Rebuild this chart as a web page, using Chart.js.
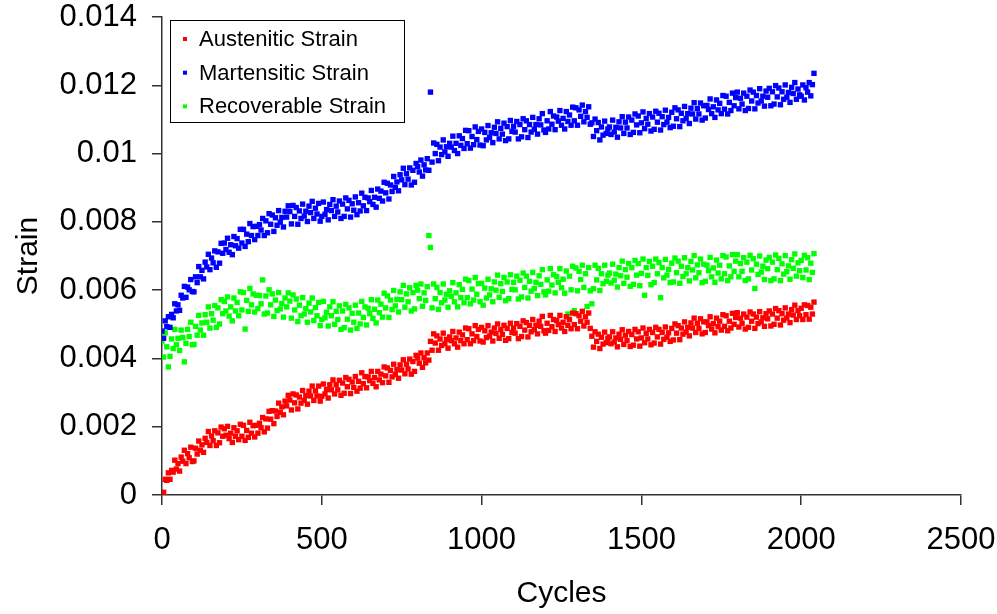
<!DOCTYPE html>
<html>
<head>
<meta charset="utf-8">
<title>Strain vs Cycles</title>
<script src="https://cdn.jsdelivr.net/npm/chart.js@4/dist/chart.umd.min.js"></script>
<style>
    html, body { margin: 0; padding: 0; background: #ffffff; }
    #strainChart { display: block; }
</style>
</head>
<body>
<canvas id="strainChart" width="997" height="614"></canvas>
<script>
const STRAIN_UNIT = 1e-5;
const CYCLE_STEP = 5;

const seriesLabels = ["Austenitic Strain", "Martensitic Strain", "Recoverable Strain"];
const seriesColors = ["#ff0000", "#0000ff", "#00ff00"];

const xTickLabels = ["0", "500", "1000", "1500", "2000", "2500"];
const yTickLabels = ["0", "0.002", "0.004", "0.006", "0.008", "0.01", "0.012", "0.014"];

const austeniticStrain = [
    2,8,46,43,65,46,72,67,102,76,92,70,111,99,131,92,121,109,140,98,
    100,137,120,158,131,147,125,166,154,186,145,173,159,188,145,182,153,199,172,194,
    175,201,165,181,154,197,172,188,162,207,172,204,160,189,169,213,181,203,170,204,
    181,210,197,227,185,223,196,245,222,247,209,246,230,269,242,258,235,275,261,292,
    278,249,296,270,293,252,287,269,306,277,291,266,304,290,319,277,305,290,319,275,
    289,325,296,309,284,323,308,337,296,323,308,336,292,328,298,344,317,339,297,331,
    315,347,304,333,313,358,326,347,314,346,335,362,327,344,317,362,337,354,329,375,
    349,372,330,365,346,383,353,367,342,381,366,396,355,383,369,398,354,391,362,409,
    401,386,416,374,402,387,416,395,450,424,472,445,466,424,457,438,474,443,456,430,
    463,452,479,443,460,433,477,452,469,443,489,455,487,443,472,452,496,464,485,451,
    491,448,481,461,496,465,477,451,489,473,501,459,485,470,497,453,488,458,503,476,
    489,474,502,458,494,464,510,483,505,463,497,478,514,484,497,472,509,494,523,481,
    474,503,482,526,493,514,479,511,499,526,489,506,479,522,497,514,487,533,499,531,
    487,525,509,538,495,522,506,533,488,465,433,478,450,471,429,462,442,477,446,459,
    463,443,478,448,460,434,471,456,484,441,468,452,479,435,470,439,485,457,478,436,
    460,489,446,473,457,485,440,476,445,491,463,485,442,476,456,492,462,475,450,488,
    454,501,474,496,455,489,471,507,477,491,466,504,489,518,476,503,488,516,472,507,
    476,507,496,522,486,502,475,518,493,509,483,528,494,525,481,509,489,532,500,520,
    534,492,518,503,530,486,521,491,536,509,530,488,521,502,537,507,519,494,531,516,
    539,495,530,500,546,518,540,498,531,512,548,518,530,505,543,527,556,514,540,525,
    547,514,557,528,555,515,550,530,565
];

const martensiticStrain = [
    480,459,510,493,522,491,529,519,560,539,557,541,585,577,611,579,609,601,631,596,
    595,639,622,669,639,658,633,682,668,705,660,694,680,715,667,712,679,737,708,738,
    719,752,711,733,704,757,730,751,723,778,738,778,728,764,742,795,760,786,748,787,
    760,792,776,810,760,803,768,824,793,820,772,812,790,833,799,813,785,831,814,847,
    830,794,848,816,842,793,832,810,852,817,831,801,846,827,860,810,840,823,854,802,
    816,858,822,836,806,851,833,865,816,846,829,861,810,852,816,870,838,863,814,853,
    834,873,821,856,832,884,847,872,833,870,859,892,851,872,843,896,869,890,861,916,
    885,913,867,908,889,933,901,917,891,938,923,957,909,941,925,958,908,951,916,971,
    962,946,981,934,967,952,985,951,1180,975,1031,1000,1027,979,1019,997,1040,1005,1020,992,
    1030,1019,1051,1009,1030,1000,1052,1024,1044,1015,1068,1029,1067,1016,1050,1026,1078,1041,1065,1025,
    1072,1023,1062,1040,1082,1047,1061,1032,1077,1059,1093,1043,1074,1057,1089,1038,1079,1043,1097,1065,
    1080,1063,1094,1043,1085,1049,1102,1070,1096,1047,1085,1063,1106,1071,1085,1057,1102,1084,1117,1069,
    1062,1096,1072,1123,1086,1110,1070,1107,1095,1126,1083,1103,1072,1123,1094,1113,1083,1136,1096,1134,
    1083,1128,1109,1142,1093,1123,1106,1137,1086,1090,1050,1101,1067,1091,1040,1078,1054,1095,1059,1072,
    1078,1056,1098,1063,1077,1048,1093,1075,1108,1059,1092,1075,1107,1056,1098,1062,1116,1084,1110,1061,
    1090,1122,1073,1103,1086,1117,1066,1107,1071,1124,1092,1118,1069,1108,1085,1127,1092,1106,1076,1121,
    1080,1134,1102,1128,1079,1118,1096,1138,1103,1117,1088,1133,1116,1149,1101,1132,1116,1148,1098,1140,
    1104,1141,1129,1160,1117,1137,1106,1157,1128,1147,1117,1170,1130,1168,1116,1150,1126,1177,1140,1164,
    1180,1131,1162,1145,1177,1126,1168,1132,1186,1154,1180,1131,1170,1148,1190,1154,1168,1139,1183,1165,
    1191,1140,1181,1145,1199,1166,1192,1143,1181,1159,1201,1165,1179,1150,1194,1176,1208,1159,1189,1172,
    1168,1201,1157,1193,1180,1208,1169,1202,1235
];

const recoverableStrain = [
    451,404,475,434,375,406,457,429,485,440,459,423,483,461,390,444,485,464,506,440,
    441,494,468,526,483,504,468,528,506,551,489,531,512,555,491,548,501,572,531,567,
    539,580,524,551,510,577,539,564,525,595,542,593,486,570,538,605,557,589,536,585,
    546,584,560,630,530,583,533,601,557,589,523,571,540,593,545,561,521,577,551,592,
    568,518,586,542,574,508,556,525,578,530,546,506,562,536,577,511,549,525,564,496,
    514,567,519,535,495,551,525,566,500,538,514,554,485,539,490,558,515,548,483,532,
    506,556,488,533,501,567,520,551,498,547,531,572,517,544,504,571,534,559,521,591,
    548,583,520,571,543,599,554,573,536,595,572,614,550,589,566,607,539,593,545,614,
    600,575,618,553,592,570,610,760,725,548,618,575,608,544,593,563,618,571,588,550,
    598,582,622,566,592,551,616,578,602,563,632,578,628,560,603,571,637,588,619,566,
    620,556,606,577,632,586,604,566,624,600,644,579,619,596,637,569,624,575,645,602,
    623,601,641,574,629,580,650,608,641,577,626,597,652,605,623,584,642,617,660,595,
    586,630,597,663,615,645,592,640,623,663,607,632,591,656,530,641,601,670,540,665,
    598,655,631,673,608,648,552,666,598,560,604,673,630,664,599,648,619,673,626,644,
    650,621,676,629,647,609,666,642,685,620,660,638,678,611,666,617,687,644,678,613,
    649,691,585,666,643,684,616,670,622,691,648,681,578,666,636,690,644,661,622,679,
    624,694,651,685,620,670,640,695,648,666,627,684,659,701,636,674,651,691,622,676,
    626,673,657,696,639,665,623,688,650,673,633,701,648,697,628,671,639,704,655,685,
    704,639,678,655,695,628,682,633,702,659,692,605,676,646,700,653,670,631,688,663,
    696,628,682,633,703,660,693,628,677,647,701,654,671,632,689,664,706,641,680,657,
    687,637,702,659,695,631,679,652,707
];

const fontFamily = "'Liberation Sans', Arial, sans-serif";

function toPoints(values) {
    return values.map((v, i) => ({ x: i * CYCLE_STEP, y: v * STRAIN_UNIT }));
}

// no extra room for the outer tick labels, layout padding decides the plot box
function noLabelPadding(scale) {
    scale.paddingTop = 0;
    scale.paddingBottom = 0;
    scale.paddingLeft = 0;
    scale.paddingRight = 0;
}

// legend box sitting inside the plot, top left
const insideLegend = {
    id: "insideLegend",
    afterDatasetsDraw(chart) {
        const ctx = chart.ctx;
        ctx.save();
        ctx.fillStyle = "#ffffff";
        ctx.fillRect(170.5, 20.5, 234, 102);
        ctx.strokeStyle = "#000000";
        ctx.lineWidth = 1;
        ctx.strokeRect(170.5, 20.5, 234, 102);
        ctx.font = "22px " + fontFamily;
        ctx.textBaseline = "middle";
        ctx.textAlign = "left";
        chart.data.datasets.forEach((ds, i) => {
            let y = 39 + i * 33.7;
            ctx.fillStyle = ds.backgroundColor;
            ctx.fillRect(183, y - 2, 4, 4);
            ctx.fillStyle = "#000000";
            ctx.fillText(ds.label, 199, y + 1);
        });
        ctx.restore();
    }
};

const seriesValues = [austeniticStrain, martensiticStrain, recoverableStrain];

new Chart(document.getElementById("strainChart"), {
    type: "scatter",
    data: {
        datasets: seriesValues.map((values, i) => ({
            label: seriesLabels[i],
            data: toPoints(values),
            backgroundColor: seriesColors[i],
            borderColor: seriesColors[i],
            borderWidth: 0,
            pointStyle: "rect",
            pointRadius: 3.8,
            pointHoverRadius: 3.8,
        })),
    },
    options: {
        responsive: false,
        animation: false,
        layout: {
            padding: { top: 17, right: 36, left: 0, bottom: 0 },
        },
        plugins: {
            legend: { display: false },
            tooltip: { enabled: false },
        },
        scales: {
            x: {
                type: "linear",
                min: 0,
                max: 2500,
                afterFit(scale) {
                    scale.height = 119;
                    noLabelPadding(scale);
                },
                ticks: {
                    stepSize: 500,
                    padding: 17,
                    color: "#000000",
                    font: { family: fontFamily, size: 31 },
                    callback: (value, index) => xTickLabels[index],
                },
                grid: {
                    drawOnChartArea: false,
                    drawTicks: true,
                    tickLength: 10,
                    color: "#333333",
                    lineWidth: 1.5,
                },
                border: { display: true, color: "#333333", width: 1.5 },
                title: {
                    display: true,
                    text: "Cycles",
                    color: "#000000",
                    font: { family: fontFamily, size: 30 },
                    padding: { top: 0, bottom: 2 },
                },
            },
            y: {
                min: 0,
                max: 0.014,
                afterFit(scale) {
                    scale.width = 162;
                    noLabelPadding(scale);
                },
                ticks: {
                    stepSize: 0.002,
                    padding: 15,
                    color: "#000000",
                    font: { family: fontFamily, size: 31 },
                    callback: (value, index) => yTickLabels[index],
                },
                grid: {
                    drawOnChartArea: false,
                    drawTicks: true,
                    tickLength: 10,
                    color: "#333333",
                    lineWidth: 1.5,
                },
                border: { display: true, color: "#333333", width: 1.5 },
                title: {
                    display: true,
                    text: "Strain",
                    color: "#000000",
                    font: { family: fontFamily, size: 30 },
                    padding: { top: 11, bottom: 0 },
                },
            },
        },
    },
    plugins: [insideLegend],
});
</script>
</body>
</html>
